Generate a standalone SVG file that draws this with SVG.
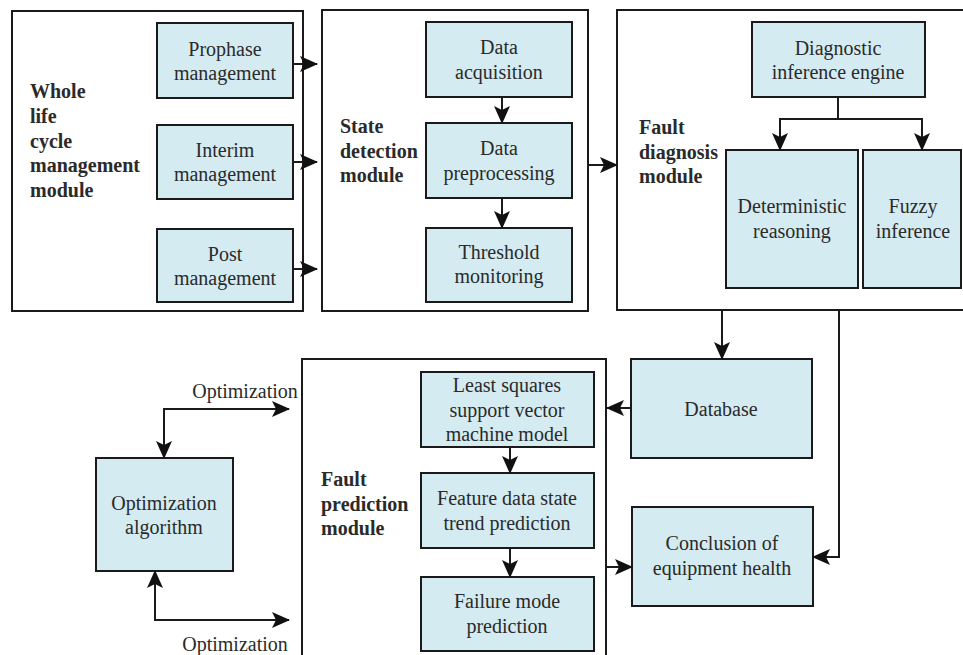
<svg xmlns="http://www.w3.org/2000/svg" width="963" height="655" viewBox="0 0 963 655">
<defs>
<style>
.mod{fill:#fff;stroke:#1a1a1a;stroke-width:2}
.box{fill:#d4ebf2;stroke:#1a1a1a;stroke-width:2}
.t{font-family:'Liberation Serif',Tinos,'Noto Serif','DejaVu Serif',serif;font-size:20px;fill:#2a2a2a;text-anchor:middle}
.b{font-family:'Liberation Serif',Tinos,'Noto Serif','DejaVu Serif',serif;font-size:20px;font-weight:bold;fill:#2a2a2a}
.c{fill:none;stroke:#1a1a1a;stroke-width:2}
</style>
<marker id="ah" viewBox="0 0 18 16" refX="17" refY="8" markerWidth="18" markerHeight="16" markerUnits="userSpaceOnUse" orient="auto-start-reverse">
<path d="M0,0 L18,8 L0,16 L4,8 Z" fill="#111"/>
</marker>
</defs>

<g id="whole-life-module">
<rect class="mod" x="12" y="11" width="291" height="300"/>
<text class="b"><tspan x="30" y="98">Whole</tspan><tspan x="30" y="123">life</tspan><tspan x="30" y="148">cycle</tspan><tspan x="30" y="172">management</tspan><tspan x="30" y="197">module</tspan></text>
</g>
<g id="prophase"><rect class="box" x="157" y="23" width="136" height="75"/><text class="t"><tspan x="225" y="56">Prophase</tspan><tspan x="225" y="80">management</tspan></text></g>
<g id="interim"><rect class="box" x="157" y="125" width="136" height="74"/><text class="t"><tspan x="225" y="157">Interim</tspan><tspan x="225" y="181">management</tspan></text></g>
<g id="post"><rect class="box" x="157" y="229" width="136" height="73"/><text class="t"><tspan x="225" y="261">Post</tspan><tspan x="225" y="285">management</tspan></text></g>

<g id="state-detection-module">
<rect class="mod" x="322" y="10" width="266" height="301"/>
<text class="b"><tspan x="340" y="133">State</tspan><tspan x="340" y="158">detection</tspan><tspan x="340" y="182">module</tspan></text>
</g>
<g id="data-acquisition"><rect class="box" x="426" y="22" width="146" height="75"/><text class="t"><tspan x="499" y="54">Data</tspan><tspan x="499" y="79">acquisition</tspan></text></g>
<g id="data-preprocessing"><rect class="box" x="426" y="123" width="146" height="75"/><text class="t"><tspan x="499" y="155">Data</tspan><tspan x="499" y="180">preprocessing</tspan></text></g>
<g id="threshold-monitoring"><rect class="box" x="426" y="228" width="146" height="74"/><text class="t"><tspan x="499" y="259">Threshold</tspan><tspan x="499" y="283">monitoring</tspan></text></g>

<g id="fault-diagnosis-module">
<rect class="mod" x="617" y="10" width="360" height="300"/>
<text class="b"><tspan x="639" y="134">Fault</tspan><tspan x="639" y="159">diagnosis</tspan><tspan x="639" y="183">module</tspan></text>
</g>
<g id="diagnostic-engine"><rect class="box" x="752" y="22" width="173" height="75"/><text class="t"><tspan x="838" y="55">Diagnostic</tspan><tspan x="838" y="79">inference engine</tspan></text></g>
<g id="deterministic-reasoning"><rect class="box" x="726" y="150" width="132" height="138"/><text class="t"><tspan x="792" y="213">Deterministic</tspan><tspan x="792" y="238">reasoning</tspan></text></g>
<g id="fuzzy-inference"><rect class="box" x="863" y="150" width="98" height="138"/><text class="t"><tspan x="913" y="213">Fuzzy</tspan><tspan x="913" y="238">inference</tspan></text></g>

<g id="database"><rect class="box" x="631" y="359" width="181" height="99"/><text class="t" x="721" y="416">Database</text></g>
<g id="conclusion"><rect class="box" x="632" y="507" width="181" height="99"/><text class="t"><tspan x="722" y="550">Conclusion of</tspan><tspan x="722" y="575">equipment health</tspan></text></g>

<g id="fault-prediction-module">
<rect class="mod" x="302" y="359" width="304" height="310"/>
<text class="b"><tspan x="321" y="486">Fault</tspan><tspan x="321" y="511">prediction</tspan><tspan x="321" y="535">module</tspan></text>
</g>
<g id="lssvm"><rect class="box" x="421" y="372" width="173" height="75"/><text class="t"><tspan x="507" y="392">Least squares</tspan><tspan x="507" y="417">support vector</tspan><tspan x="507" y="441">machine model</tspan></text></g>
<g id="feature-trend"><rect class="box" x="421" y="473" width="173" height="75"/><text class="t"><tspan x="507" y="505">Feature data state</tspan><tspan x="507" y="530">trend prediction</tspan></text></g>
<g id="failure-mode"><rect class="box" x="421" y="577" width="173" height="74"/><text class="t"><tspan x="507" y="608">Failure mode</tspan><tspan x="507" y="633">prediction</tspan></text></g>

<g id="optimization-algorithm"><rect class="box" x="96" y="458" width="137" height="113"/><text class="t"><tspan x="164" y="510">Optimization</tspan><tspan x="164" y="534">algorithm</tspan></text></g>

<g id="connectors">
<line class="c" x1="293" y1="64" x2="317" y2="64" marker-end="url(#ah)"/>
<line class="c" x1="293" y1="162" x2="317" y2="162" marker-end="url(#ah)"/>
<line class="c" x1="293" y1="269" x2="317" y2="269" marker-end="url(#ah)"/>
<line class="c" x1="502" y1="97" x2="502" y2="123" marker-end="url(#ah)"/>
<line class="c" x1="502" y1="198" x2="502" y2="228" marker-end="url(#ah)"/>
<line class="c" x1="588" y1="165" x2="617" y2="165" marker-end="url(#ah)"/>
<line class="c" x1="838" y1="97" x2="838" y2="119"/>
<polyline class="c" points="780,150 780,119 922,119 922,150" marker-start="url(#ah)" marker-end="url(#ah)"/>
<line class="c" x1="722" y1="310" x2="722" y2="359" marker-end="url(#ah)"/>
<polyline class="c" points="839,310 839,557 813,557" marker-end="url(#ah)"/>
<line class="c" x1="631" y1="408" x2="607" y2="408" marker-end="url(#ah)"/>
<line class="c" x1="606" y1="567" x2="632" y2="567" marker-end="url(#ah)"/>
<line class="c" x1="510" y1="447" x2="510" y2="473" marker-end="url(#ah)"/>
<line class="c" x1="510" y1="548" x2="510" y2="577" marker-end="url(#ah)"/>
<polyline class="c" points="164,458 164,409 289,409" marker-start="url(#ah)" marker-end="url(#ah)"/>
<polyline class="c" points="155,571 155,620 289,620" marker-start="url(#ah)" marker-end="url(#ah)"/>
<text class="t" x="245" y="398">Optimization</text>
<text class="t" x="235" y="651">Optimization</text>
</g>
</svg>
